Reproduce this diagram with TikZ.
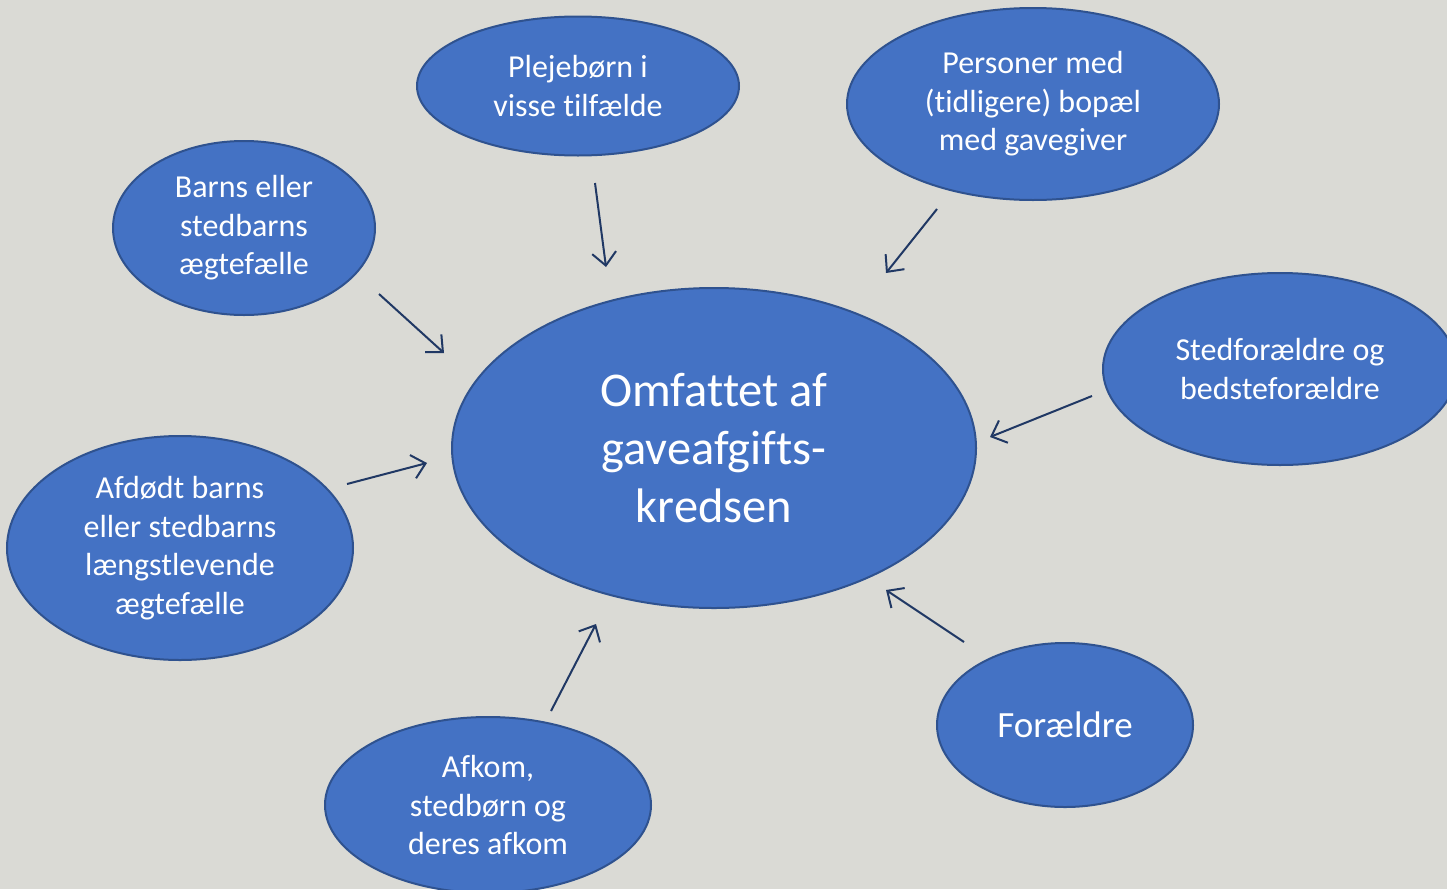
\documentclass[tikz,border=0pt]{standalone}
\usepackage{fontspec}
\setmainfont{Carlito}[Ligatures={NoCommon}]
\usetikzlibrary{shapes.geometric,arrows.meta}
\definecolor{bg}{HTML}{DADAD5}
\definecolor{fillblue}{HTML}{4472C4}
\definecolor{edgeblue}{HTML}{2F528F}
\definecolor{arrowcol}{HTML}{203864}
\tikzset{
  bubble/.style={ellipse, draw=edgeblue, line width=2pt, fill=fillblue, text=white,
    align=center, inner sep=0pt, font=\fontsize{32}{38.5}\selectfont},
  pointer/.style={draw=arrowcol, line width=2pt,
    -{Straight Barb[length=13pt,width=24pt,line width=2pt]}}
}
\begin{document}
\begin{tikzpicture}[x=1pt,y=-1pt]
\useasboundingbox (0,0) rectangle (1447,889);
\fill[bg] (0,0) rectangle (1447,889);
\clip (0,0) rectangle (1447,889);

\node[bubble, minimum width=524pt, minimum height=320pt,
  font=\fontsize{48.5}{58}\selectfont] (main) at (714,448) {Omfattet af\\gaveafgifts-\\kredsen};
\node[bubble, minimum width=322pt, minimum height=139pt] (pleje) at (578,86) {Plejebørn i\\visse tilfælde};
\node[bubble, minimum width=372pt, minimum height=192pt] (pers) at (1033,104) {Personer med\\(tidligere) bopæl\\med gavegiver};
\node[bubble, minimum width=262pt, minimum height=174pt] (barns) at (244,228) {Barns eller\\stedbarns\\ægtefælle};
\node[bubble, minimum width=354pt, minimum height=192pt] (sted) at (1280,369) {Stedforældre og\\bedsteforældre};
\node[bubble, minimum width=346pt, minimum height=224pt] (afdod) at (180,548) {Afdødt barns\\eller stedbarns\\længstlevende\\ægtefælle};
\node[bubble, minimum width=326pt, minimum height=176pt] (afkom) at (488,805) {Afkom,\\stedbørn og\\deres afkom};
\node[bubble, minimum width=256pt, minimum height=164pt,
  font=\fontsize{37}{44}\selectfont] (foraeldre) at (1065,725) {Forældre};

\coordinate (p1s) at (595,183); \coordinate (p1e) at (606,267);
\coordinate (p2s) at (937,209); \coordinate (p2e) at (886,273);
\coordinate (p3s) at (379,294); \coordinate (p3e) at (444,353);
\coordinate (p4s) at (1092,396); \coordinate (p4e) at (990,437);
\coordinate (p5s) at (347,484); \coordinate (p5e) at (427,463);
\coordinate (p6s) at (551,711); \coordinate (p6e) at (596,624);
\coordinate (p7s) at (964,642); \coordinate (p7e) at (886,590);

\draw[pointer] (p1s) -- (p1e);
\draw[pointer] (p2s) -- (p2e);
\draw[pointer] (p3s) -- (p3e);
\draw[pointer] (p4s) -- (p4e);
\draw[pointer] (p5s) -- (p5e);
\draw[pointer] (p6s) -- (p6e);
\draw[pointer] (p7s) -- (p7e);
\end{tikzpicture}
\end{document}
